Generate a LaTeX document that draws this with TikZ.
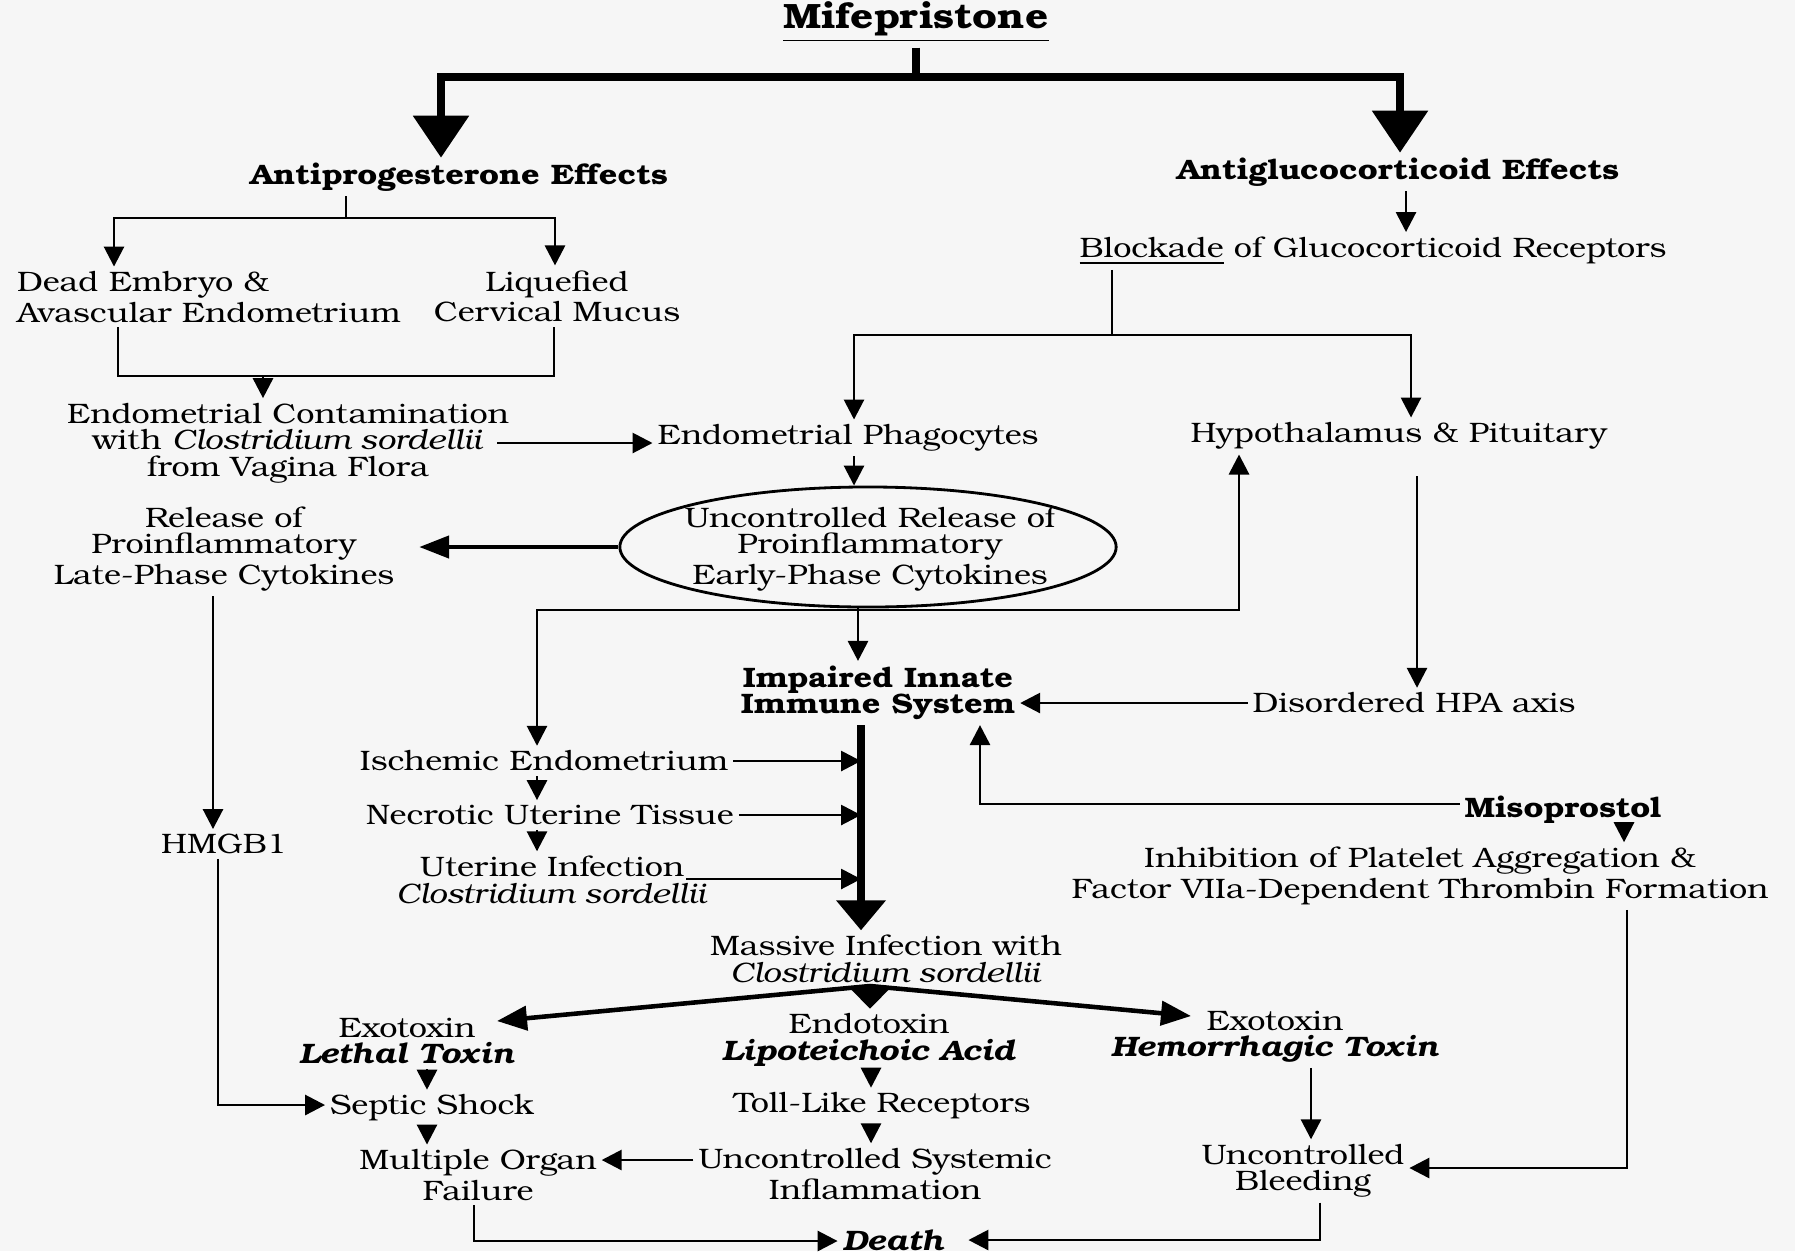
\documentclass[tikz,border=0pt]{standalone}
\usepackage{fontspec}
\setmainfont{texgyrebonum}[Extension=.otf, UprightFont=*-regular, BoldFont=*-bold,
  ItalicFont=*-italic, BoldItalicFont=*-bolditalic, FakeStretch=1.15]
\usetikzlibrary{arrows.meta,shapes.geometric}

\newcommand\boxfont{\fontsize{8}{7.5}\selectfont}
\newcommand\topfont{\fontsize{10}{11}\selectfont\bfseries}

\tikzset{
  lbl/.style={inner sep=0pt, outer sep=0.05cm, align=center, font=\boxfont},
  hdr/.style={lbl, font=\boxfont\bfseries},
  wire/.style={line width=0.8pt},
  arr/.style={wire, -{Triangle[width=2mm,length=2mm]}},
  twoarr/.style={wire, {Triangle[width=2mm,length=2mm]}-{Triangle[width=2mm,length=2mm]}},
  medarr/.style={line width=1.3pt, -{Triangle[width=2.2mm,length=3mm]}},
  trunk/.style={line width=2.5pt},
  bigtwo/.style={trunk, {Triangle[width=5.4mm,length=4.2mm]}-{Triangle[width=5.4mm,length=4.2mm]}},
  spinearr/.style={line width=2.4pt, -{Triangle[width=4.8mm,length=3mm]}},
  fanarr/.style={line width=1.3pt, -{Triangle[width=2.4mm,length=3mm]}},
  bigfan/.style={line width=1.3pt, -{Triangle[width=4.2mm,length=2.2mm]}},
}

\begin{document}
\begin{tikzpicture}[x=0.01cm, y=-0.01cm]
\fill[gray!7] (0,0) rectangle (1795,1251);
\useasboundingbox (0,0) rectangle (1795,1251);

% upper part
\node[lbl, font=\topfont] (mife) at (916,22) {\underline{Mifepristone}};
\node[hdr] (antiprog) at (459,177) {Antiprogesterone Effects};
\node[hdr] (antiglu) at (1398,172) {Antiglucocorticoid Effects};
\node[lbl] (block) at (1373,251) {\underline{Blockade} of Glucocorticoid Receptors};
\node[lbl, align=left, anchor=west] (dead) at (12,297) {Dead Embryo \&\\Avascular Endometrium};
\node[lbl] (liq) at (557,296) {Liquefied\\Cervical Mucus};
\node[lbl] (contam) at (288,443) {Endometrial Contamination\\with \textit{Clostridium sordellii}\\from Vagina Flora};
\node[lbl] (phago) at (848,438) {Endometrial Phagocytes};
\node[lbl] (hypo) at (1399,436) {Hypothalamus \& Pituitary};
\node[draw, ellipse, line width=0.8pt, minimum width=4.96cm, minimum height=1.2cm, inner sep=0pt] (cytoell) at (868,547) {};
\node[lbl] (cyto) at (870,549) {Uncontrolled Release of\\Proinflammatory\\Early-Phase Cytokines};
\node[lbl] (late) at (224,549) {Release of\\Proinflammatory\\Late-Phase Cytokines};

% middle part
\node[hdr] (impaired) at (878,693) {Impaired Innate\\Immune System};
\node[lbl] (hpa) at (1414,703) {Disordered HPA axis};
\node[lbl] (isch) at (544,761) {Ischemic Endometrium};
\node[lbl] (necro) at (550,815) {Necrotic Uterine Tissue};
\node[hdr] (miso) at (1563,810) {Misoprostol};
\node[lbl] (hmgb) at (224,844) {HMGB1};
\node[lbl] (inhib) at (1420,876) {Inhibition of Platelet Aggregation \&\\Factor VIIa-Dependent Thrombin Formation};
\node[lbl] (uterine) at (552,880) {Uterine Infection\\\textit{Clostridium sordellii}};
\node[lbl] (massive) at (886,959) {Massive Infection with\\\textit{Clostridium sordellii}};

% lower part
\node[lbl] (exolethal) at (407,1041) {Exotoxin\\\textbf{\textit{Lethal Toxin}}};
\node[lbl] (endo) at (869,1040) {Endotoxin\\\textbf{\textit{Lipoteichoic Acid}}};
\node[lbl] (exohem) at (1275,1037) {Exotoxin\\\textbf{\textit{Hemorrhagic Toxin}}};
\node[lbl] (septic) at (432,1108) {Septic Shock};
\node[lbl] (toll) at (882,1106) {Toll-Like Receptors};
\node[lbl] (multi) at (478,1175) {Multiple Organ\\Failure};
\node[lbl] (systemic) at (875,1174) {Uncontrolled Systemic\\Inflammation};
\node[lbl] (bleed) at (1303,1171) {Uncontrolled\\Bleeding};
\node[lbl, font=\boxfont\bfseries\itshape] (death) at (893,1240) {Death};

% junction points
\coordinate (mbar) at (916,77);
\coordinate (mleft) at (441,77);
\coordinate (mright) at (1400,77);
\coordinate (aj) at (346,218);
\coordinate (al) at (114,218);
\coordinate (ar) at (555,218);
\coordinate (gx) at (1406,0);
\coordinate (bj) at (1112,335);
\coordinate (bl) at (854,335);
\coordinate (br) at (1411,335);
\coordinate (dl) at (118,376);
\coordinate (dr) at (554,376);
\coordinate (dm) at (263,376);
\coordinate (cx) at (497,0);
\coordinate (px) at (854,0);
\coordinate (lateIn) at ([xshift=0.2cm]late.east);
\coordinate (ex) at (858,0);
\coordinate (hl) at (537,610);
\coordinate (hr) at (1239,610);
\coordinate (hx) at (1417,476);
\coordinate (mx) at (980,804);
\coordinate (mdx) at (1624,0);
\coordinate (ib) at (1627,1168);
\coordinate (sx) at (861,0);
\coordinate (uo) at (686,879);
\coordinate (ix) at (537,0);
\coordinate (lx) at (213,0);
\coordinate (hx2) at (218,1105);
\coordinate (mj) at (870,986);
\coordinate (lethin) at (497,1021);
\coordinate (hemin) at (1191,1016);
\coordinate (lt) at (427,0);
\coordinate (tx) at (871,0);
\coordinate (sy) at (0,1160);
\coordinate (dx1) at (474,1241);
\coordinate (hb) at (1311,0);
\coordinate (dx2) at (1320,1240);
\coordinate (deathIn) at ([xshift=0.2cm]death.east);

% connectors
\draw[trunk] (mife.south) -- (mbar);
\draw[bigtwo] (antiprog.north -| mleft) -- (mleft) -- (mright) -- (antiglu.north -| mright);
\draw[wire] (antiprog.south -| aj) -- (aj);
\draw[twoarr] (dead.north -| al) -- (al) -- (ar) -- (liq.north -| ar);
\draw[arr] (antiglu.south -| gx) -- (block.north -| gx);
\draw[wire] (block.south -| bj) -- (bj);
\draw[twoarr] (phago.north -| bl) -- (bl) -- (br) -- (hypo.north -| br);
\draw[wire] (dead.south -| dl) -- (dl) -- (dr) -- (liq.south -| dr);
\draw[arr] (dm) -- (contam.north -| dm);
\draw[arr] (contam.center -| cx) -- (contam.center -| phago.west);
\draw[arr] (phago.south -| px) -- (cytoell.north -| px);
\draw[medarr] (cytoell.west) -- (lateIn |- cytoell.west);
\draw[arr] (cytoell.south -| ex) -- (impaired.north -| ex);
\draw[twoarr] (isch.north -| hl) -- (hl) -- (hr) -- (hypo.south -| hr);
\draw[arr] (hx) -- (hpa.north -| hx);
\draw[arr] (hpa.west) -- (hpa.west -| impaired.east);
\draw[arr] (miso.west |- mx) -- (mx) -- (impaired.south -| mx);
\draw[arr] (miso.south -| mdx) -- (inhib.north -| mdx);
\draw[arr] (inhib.south -| ib) -- (ib) -- (bleed.east |- ib);
\draw[spinearr] (impaired.south -| sx) -- (massive.north -| sx);
\draw[arr] (isch.east) -- (isch.east -| sx);
\draw[arr] (necro.east) -- (necro.east -| sx);
\draw[arr] (uo) -- (uo -| sx);
\draw[arr] (isch.south -| ix) -- (necro.north -| ix);
\draw[arr] (necro.south -| ix) -- (uterine.north -| ix);
\draw[arr] (late.south -| lx) -- (hmgb.north -| lx);
\draw[arr] (hmgb.south -| hx2) -- (hx2) -- (septic.west |- hx2);
\draw[fanarr] (mj) -- (lethin);
\draw[fanarr] (mj) -- (hemin);
\draw[bigfan] (mj) -- (endo.north -| mj);
\draw[arr] (exolethal.south -| lt) -- (septic.north -| lt);
\draw[arr] (septic.south -| lt) -- (multi.north -| lt);
\draw[arr] (endo.south -| tx) -- (toll.north -| tx);
\draw[arr] (toll.south -| tx) -- (systemic.north -| tx);
\draw[arr] (systemic.west |- sy) -- (multi.east |- sy);
\draw[arr] (multi.south -| dx1) -- (dx1) -- (death.west |- dx1);
\draw[arr] (exohem.south -| hb) -- (bleed.north -| hb);
\draw[arr] (bleed.south -| dx2) -- (dx2) -- (deathIn |- dx2);
\end{tikzpicture}
\end{document}
